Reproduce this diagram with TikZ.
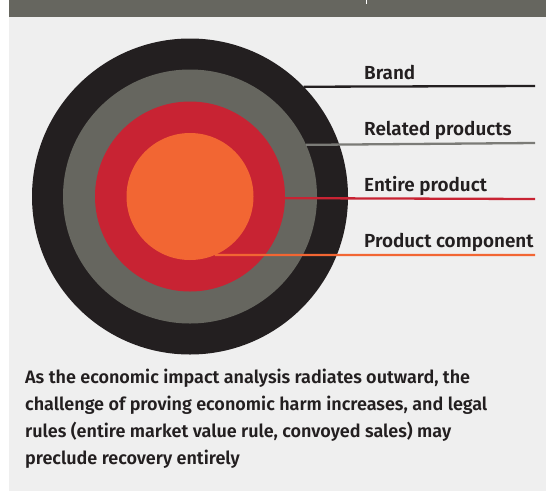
\documentclass[tikz,border=0pt]{standalone}
\usepackage{fontspec}
\setmainfont{Fira Sans}[BoldFont={Fira Sans SemiBold}]
\definecolor{barGray}{HTML}{66665F}
\definecolor{panelGray}{HTML}{EFEFEF}
\definecolor{ringBlack}{HTML}{231F20}
\definecolor{ringGray}{HTML}{66665F}
\definecolor{lineGray}{HTML}{7B7B77}
\definecolor{ringRed}{HTML}{C82333}
\definecolor{ringOrange}{HTML}{F26633}
\definecolor{textDark}{HTML}{231F20}
\begin{document}
\begin{tikzpicture}[x=1pt,y=-1pt,
  ring/.style={circle, inner sep=0pt, outer sep=0pt, draw=none},
  leader/.style={line width=2.3pt},
  label/.style={anchor=base west, inner sep=0pt, text=textDark,
    font=\fontsize{18.9}{22}\selectfont\bfseries},
  caption/.style={anchor=north west, inner sep=0pt, text=textDark, align=left,
    font=\fontsize{18}{27}\selectfont\bfseries}]
  \useasboundingbox (0,0) rectangle (546,491);
  % page background and header strip
  \fill[white] (0,0) rectangle (546,491);
  \fill[panelGray] (9,17.3) rectangle (546,491);
  \fill[barGray] (9,0) rectangle (546,17.3);
  \fill[white] (365.5,0) rectangle (367,3.5);
  % concentric rings
  \node[ring, fill=ringBlack, minimum size=316pt] (brandC) at (190,196.5) {};
  \node[ring, fill=ringGray, minimum size=254pt] (relatedC) at (190,196.5) {};
  \node[ring, fill=ringRed, minimum size=190pt] (entireC) at (190,196.5) {};
  \node[ring, fill=ringOrange, minimum size=127pt] (componentC) at (190,196.5) {};
  % leader line end points
  \coordinate (brandE) at (535,86);
  \coordinate (relatedE) at (535,143);
  \coordinate (entireE) at (535,199);
  \coordinate (componentE) at (535,255);
  \draw[leader, ringBlack] (brandC.44.4) -- (brandE);
  \draw[leader, lineGray] (relatedC.24.9) -- (relatedE);
  \draw[leader, ringRed] (entireC.-1.5) -- (entireE);
  \draw[leader, ringOrange] (componentC.-67.1) -- (componentE);
  % labels
  \node[label] (brandL) at (364,79.3) {Brand};
  \node[label] (relatedL) at (364,135.5) {Related products};
  \node[label] (entireL) at (364,191.7) {Entire product};
  \node[label] (componentL) at (364,247.5) {Product component};
  % caption
  \node[caption] (cap) at (25,369) {As the economic impact analysis radiates outward, the\\
    challenge of proving economic harm increases, and legal\\
    rules (entire market value rule, convoyed sales) may\\
    preclude recovery entirely};
\end{tikzpicture}
\end{document}
